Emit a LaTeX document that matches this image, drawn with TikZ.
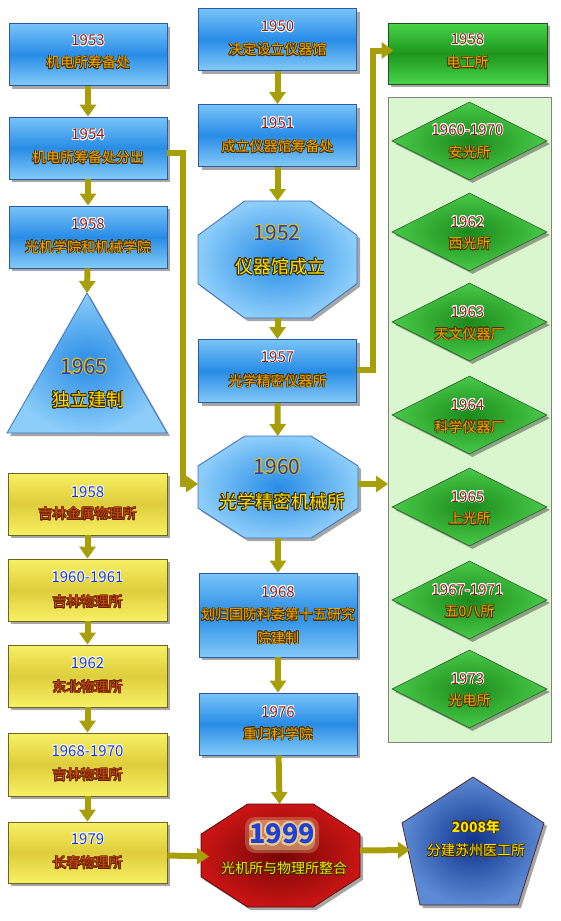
\documentclass[tikz,border=0pt]{standalone}
\usepackage{fontspec}
\setmainfont{Noto Sans CJK SC}
\usepackage{contour}
\usetikzlibrary{arrows.meta,shadows,shapes.geometric}
\definecolor{blutop}{RGB}{122,196,248}
\definecolor{blumid}{RGB}{40,140,230}
\definecolor{blubot}{RGB}{132,202,248}
\definecolor{bluedge}{RGB}{40,90,170}
\definecolor{grntop}{RGB}{72,212,72}
\definecolor{grnmid}{RGB}{30,150,30}
\definecolor{grnedge}{RGB}{30,80,30}
\definecolor{yeltop}{RGB}{248,240,100}
\definecolor{yelmid}{RGB}{222,205,60}
\definecolor{yeledge}{RGB}{110,100,30}
\definecolor{octin}{RGB}{40,140,230}
\definecolor{octout}{RGB}{140,205,250}
\definecolor{octedge}{RGB}{60,110,190}
\definecolor{diain}{RGB}{28,138,28}
\definecolor{diaout}{RGB}{72,202,72}
\definecolor{diaedge}{RGB}{40,90,40}
\definecolor{redin}{RGB}{120,5,5}
\definecolor{redout}{RGB}{200,20,20}
\definecolor{rededge}{RGB}{90,10,10}
\definecolor{penin}{RGB}{15,50,140}
\definecolor{penout}{RGB}{92,138,212}
\definecolor{penedge}{RGB}{80,40,40}
\definecolor{panelfill}{RGB}{218,246,206}
\definecolor{paneledge}{RGB}{130,130,130}
\definecolor{arrcol}{RGB}{168,158,8}
\definecolor{yrred}{RGB}{140,28,28}
\definecolor{cngold}{RGB}{240,172,0}
\definecolor{cnedge}{RGB}{80,50,0}
\definecolor{yrblue}{RGB}{26,58,192}
\definecolor{cnorange}{RGB}{205,80,16}
\definecolor{cnredge}{RGB}{100,30,0}
\definecolor{bigblue}{RGB}{32,64,208}
\definecolor{ygold}{RGB}{232,192,0}
\definecolor{cnyellow}{RGB}{248,228,0}
\definecolor{darkedge}{RGB}{64,40,0}
\definecolor{glow}{RGB}{232,200,144}
\contourlength{0.7pt}
\newcommand\YR[1]{\textcolor{yrred}{\contour{white}{#1}}}
\newcommand\CN[1]{\textcolor{cngold}{\contour{cnedge}{#1}}}
\newcommand\YB[1]{\textcolor{yrblue}{\contour{white}{#1}}}
\newcommand\CR[1]{\textcolor{cnorange}{\contour{cnredge}{#1}}}
\newcommand\BY[1]{\textcolor{bigblue}{\contour{ygold}{#1}}}
\newcommand\CY[1]{\textcolor{cnyellow}{\contour{darkedge}{#1}}}
\begin{document}
\begin{tikzpicture}[x=1pt,y=-1pt,
  shad/.style={drop shadow={shadow xshift=3pt,shadow yshift=-3pt,opacity=.35,fill=black}},
  blubox/.style={shad,draw=bluedge,line width=0.8pt,top color=blutop,bottom color=blubot,middle color=blumid,minimum width=158pt,minimum height=62pt,inner sep=0pt},
  grnbox/.style={shad,draw=grnedge,line width=0.8pt,top color=grntop,bottom color=grntop,middle color=grnmid,minimum width=159pt,minimum height=61pt,inner sep=0pt},
  yelbox/.style={shad,draw=yeledge,line width=0.8pt,top color=yeltop,bottom color=yeltop,middle color=yelmid,minimum width=159pt,minimum height=62pt,inner sep=0pt},
  octblue/.style={shad,draw=octedge,line width=0.8pt,inner color=octin,outer color=octout},
  octred/.style={shad,draw=rededge,line width=0.8pt,inner color=redin,outer color=redout},
  pent/.style={shad,draw=penedge,line width=0.8pt,inner color=penin,outer color=penout},
  dia/.style={shape=diamond,shad,draw=diaedge,line width=0.6pt,inner color=diain,outer color=diaout,minimum width=155pt,minimum height=78pt,inner sep=0pt},
  area/.style={inner sep=0pt,outer sep=0pt},
  yrs/.style={inner sep=0pt,font=\fontsize{15}{15}\selectfont},
  cns/.style={inner sep=0pt,font=\fontsize{14}{14}\selectfont},
  bigyr/.style={inner sep=0pt,font=\fontsize{21}{21}\selectfont},
  bigcn/.style={inner sep=0pt,font=\fontsize{18}{18}\selectfont},
  conn/.style={draw=arrcol,line width=6pt,-{Triangle[width=16pt,length=12pt]}}]
\useasboundingbox (0,0) rectangle (560,921);
% ---------- left blue column ----------
\node[blubox] (b1953) at (88,54.5) {};
\node[yrs] at (88,41) {\YR{1953}};
\node[cns] at (88,63) {\CN{机电所筹备处}};
\node[blubox] (b1954) at (88,148) {};
\node[yrs] at (88,135) {\YR{1954}};
\node[cns] at (88,158) {\CN{机电所筹备处分出}};
\node[blubox] (b1958a) at (88,237) {};
\node[yrs] at (88,224) {\YR{1958}};
\node[cns] at (88,247) {\CN{光机学院和机械学院}};
\path[octblue] (7,433) -- (167,433) -- (87,293) -- cycle;
\coordinate (t1965) at (87,293);
\node[bigyr] at (84,367) {\BY{1965}};
\node[bigcn] at (88,400) {\CY{独立建制}};
% ---------- middle column ----------
\node[blubox] (b1950) at (277.5,39.5) {};
\node[yrs] at (277.5,27) {\YR{1950}};
\node[cns] at (277.5,50) {\CN{决定设立仪器馆}};
\node[blubox] (b1951) at (277.5,135.5) {};
\node[yrs] at (277.5,123) {\YR{1951}};
\node[cns] at (277.5,147) {\CN{成立仪器馆筹备处}};
\path[octblue] (244.6,201) -- (310.4,201) -- (357,235.3) -- (357,283.7) -- (310.4,318) -- (244.6,318) -- (198,283.7) -- (198,235.3) -- cycle;
\node[area,minimum width=159pt,minimum height=117pt] (o1952) at (277.5,259.5) {};
\node[bigyr] at (277,233) {\BY{1952}};
\node[bigcn] at (280,267) {\CY{仪器馆成立}};
\node[blubox,minimum height=63pt] (b1957) at (277.5,371) {};
\node[yrs] at (277.5,357) {\YR{1957}};
\node[cns] at (277.5,381) {\CN{光学精密仪器所}};
\path[octblue] (244.9,436) -- (311.1,436) -- (358,465.9) -- (358,508.1) -- (311.1,538) -- (244.9,538) -- (198,508.1) -- (198,465.9) -- cycle;
\node[area,minimum width=160pt,minimum height=102pt] (o1960) at (278,487) {};
\node[bigyr] at (277,467) {\BY{1960}};
\node[bigcn] at (282,502) {\CY{光学精密机械所}};
\node[blubox,minimum height=84pt] (b1968) at (278,615) {};
\node[yrs] at (278,592) {\YR{1968}};
\node[cns] at (278,615) {\CN{划归国防科委第十五研究}};
\node[cns] at (278,638) {\CN{院建制}};
\node[blubox] (b1976) at (278,724) {};
\node[yrs] at (278,712) {\YR{1976}};
\node[cns] at (278,734) {\CN{重归科学院}};
\path[octred] (247.6,804) -- (313.4,804) -- (360,834.2) -- (360,876.8) -- (313.4,907) -- (247.6,907) -- (201,876.8) -- (201,834.2) -- cycle;
\node[area,minimum width=159pt,minimum height=103pt] (o1999) at (280.5,855.5) {};
\fill[glow,opacity=.3,rounded corners=10pt] (245,817) rectangle (319,853);
\fill[glow,opacity=.45,rounded corners=8pt] (249,820) rectangle (315,850);
\node[inner sep=0pt,font=\fontsize{27}{27}\selectfont\bfseries] at (282,835) {\textcolor{bigblue}{\contourlength{2pt}\contour{glow}{1999}}};
\node[cns] at (284,869) {\CY{光机所与物理所整合}};
\path[pent] (473,777) -- (544,823) -- (518,905) -- (420,905) -- (402,823) -- cycle;
\node[area,minimum width=142pt,minimum height=128pt] (p2008) at (473,841) {};
\node[cns,font=\fontsize{14}{14}\selectfont\bfseries] at (476,827) {\CY{2008年}};
\node[cns] at (476,851) {\CY{分建苏州医工所}};
% ---------- right column ----------
\node[grnbox] (g1958) at (467.5,53.5) {};
\node[yrs] at (467.5,40) {\YR{1958}};
\node[cns] at (467.5,63) {\CN{电工所}};
\node[area,draw=paneledge,fill=panelfill,line width=0.8pt,minimum width=163pt,minimum height=645pt] (panel) at (469.5,419.5) {};
\node[dia] (d1) at (469.5,141) {};
\node[yrs] at (467.5,130) {\YR{1960-1970}};
\node[cns] at (469.5,153) {\CN{安光所}};
\node[dia] (d2) at (469.5,232) {};
\node[yrs] at (467.5,222) {\YR{1962}};
\node[cns] at (469.5,244) {\CN{西光所}};
\node[dia] (d3) at (469.5,322) {};
\node[yrs] at (467.5,312) {\YR{1963}};
\node[cns] at (469.5,334) {\CN{天文仪器厂}};
\node[dia] (d4) at (469.5,415) {};
\node[yrs] at (467.5,405) {\YR{1964}};
\node[cns] at (469.5,427) {\CN{科学仪器厂}};
\node[dia] (d5) at (469.5,507) {};
\node[yrs] at (467.5,497) {\YR{1965}};
\node[cns] at (469.5,519) {\CN{上光所}};
\node[dia] (d6) at (469.5,600) {};
\node[yrs] at (467.5,590) {\YR{1967-1971}};
\node[cns] at (469.5,612) {\CN{五0八所}};
\node[dia] (d7) at (469.5,689) {};
\node[yrs] at (467.5,679) {\YR{1973}};
\node[cns] at (469.5,701) {\CN{光电所}};
% ---------- yellow column ----------
\node[yelbox] (y1958) at (87.5,504) {};
\node[yrs] at (87.5,492) {\YB{1958}};
\node[cns] at (87.5,514) {\CR{吉林金属物理所}};
\node[yelbox] (y1960) at (87.5,590) {};
\node[yrs] at (87.5,577) {\YB{1960-1961}};
\node[cns] at (87.5,602) {\CR{吉林物理所}};
\node[yelbox] (y1962) at (87.5,676) {};
\node[yrs] at (87.5,663) {\YB{1962}};
\node[cns] at (87.5,687) {\CR{东北物理所}};
\node[yelbox,minimum height=63pt] (y1968) at (87.5,764.5) {};
\node[yrs] at (87.5,751) {\YB{1968-1970}};
\node[cns] at (87.5,775) {\CR{吉林物理所}};
\node[yelbox,minimum height=61pt] (y1979) at (87.5,852.5) {};
\node[yrs] at (87.5,839) {\YB{1979}};
\node[cns] at (87.5,863) {\CR{长春物理所}};
% ---------- connectors ----------
\draw[conn] (b1953) -- (b1954);
\draw[conn] (b1954) -- (b1958a);
\draw[conn] (b1958a) -- (t1965);
\draw[conn] ([yshift=-5pt]b1954.east) -- ++(16,0) |- ([yshift=3pt]o1960.west);
\draw[conn] (b1950) -- (b1951);
\draw[conn] (b1951) -- (o1952);
\draw[conn] (o1952) -- (b1957);
\draw[conn] (b1957) -- (o1960);
\draw[conn] (o1960) -- (b1968);
\draw[conn] (b1968) -- (b1976);
\draw[conn] (b1976) -- (o1999);
\draw[conn] ([yshift=1pt]b1957.east) -- ++(16,0) |- ([yshift=3pt,xshift=6pt]g1958.west);
\draw[conn] ([yshift=3pt]o1960.east) -- ([yshift=3pt]panel.west |- o1960.east);
\draw[conn] (y1958) -- (y1960);
\draw[conn] (y1960) -- (y1962);
\draw[conn] (y1962) -- (y1968);
\draw[conn] (y1968) -- (y1979);
\draw[conn] ([yshift=-3pt]y1979.east) -- ([yshift=-1pt,xshift=8pt]o1999.west);
\draw[conn] ([yshift=5pt]o1999.east) -- (410,850);
\end{tikzpicture}
\end{document}
